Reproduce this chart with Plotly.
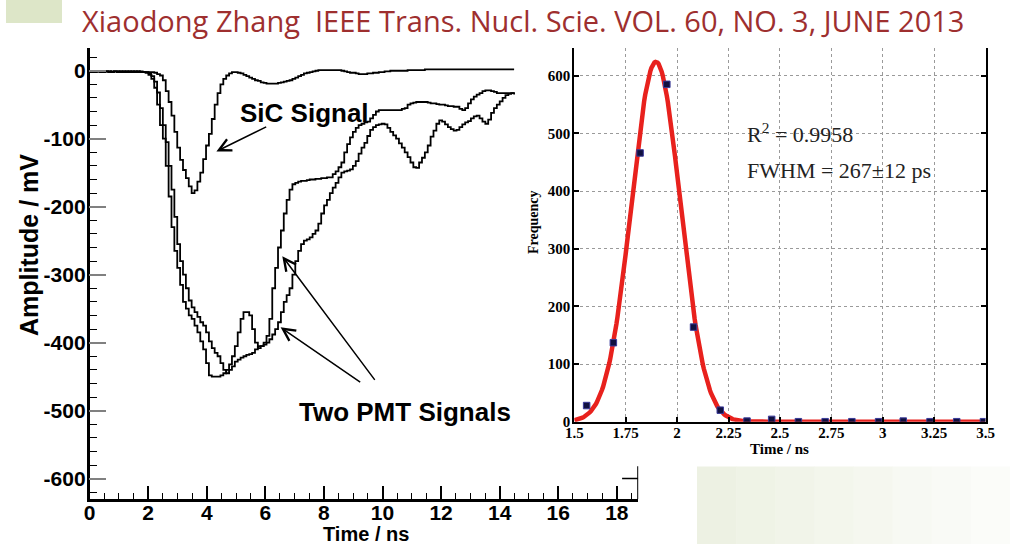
import math
import plotly.graph_objects as go

# ---------------- data ----------------
# left panel: digitised waveforms (sample period ~0.0983 ns, first sample at -0.055 ns)
sample_start_ns = -0.055
sample_period_ns = 0.0983
n_samples = 149
time_ns = [round(sample_start_ns + sample_period_ns * i, 4) for i in range(n_samples)]

sic_mv = [
    -1, -1, -2, -1, -1, -2, -1, -1, -2, -1,
    -1, -1, -2, -1, -1, -2, -1, -1, -2, -2,
    -2, -2, -2, -3, -5, -7, -14, -30, -46, -66,
    -90, -113, -131, -146, -158, -170, -180, -176, -163, -150,
    -130, -110, -93, -71, -50, -33, -20, -12, -7, -4,
    -2, -2, -3, -4, -6, -8, -10, -12, -14, -15,
    -17, -18, -19, -19, -19, -19, -18, -17, -16, -15,
    -14, -12, -10, -8, -6, -4, -3, -2, -1, 0,
    1, 1, 1, 1, 1, 1, 1, 1, 0, -1,
    -2, -3, -3, -4, -5, -5, -5, -4, -4, -3,
    -3, -2, -2, -1, -1, 0, 0, 0, 0, 0,
    0, 1, 1, 1, 1, 1, 1, 2, 2, 2,
    2, 2, 2, 2, 2, 2, 2, 2, 2, 2,
    2, 2, 2, 2, 2, 2, 2, 2, 2, 2,
    2, 2, 2, 2, 2, 2, 2, 2, 2,
]

pmt1_mv = [
    -1, -2, -1, -1, -2, -1, -1, -2, -1, -1,
    -2, -1, -1, -2, -1, -1, -2, -1, -2, -2,
    -3, -6, -12, -25, -50, -80, -100, -140, -185, -230,
    -265, -290, -315, -340, -350, -360, -365, -375, -385, -398,
    -410, -430, -448, -450, -450, -450, -448, -445, -440, -432,
    -420, -405, -385, -365, -355, -355, -360, -380, -400, -408,
    -405, -400, -390, -365, -320, -290, -260, -235, -210, -190,
    -175, -167, -165, -163, -162, -162, -161, -160, -160, -159,
    -159, -158, -158, -157, -157, -152, -148, -142, -135, -120,
    -108, -98, -90, -84, -80, -78, -76, -75, -70, -65,
    -60, -58, -58, -58, -58, -58, -58, -58, -58, -56,
    -55, -50, -48, -47, -46, -46, -46, -46, -47, -48,
    -48, -49, -50, -50, -51, -52, -52, -53, -53, -56,
    -58, -55, -48, -42, -38, -35, -33, -30, -29, -29,
    -30, -31, -33, -33, -33, -33, -33, -33, -33,
]

pmt2_mv = [
    -1, -1, -2, -1, -1, -2, -1, -1, -2, -1,
    -1, -2, -1, -1, -2, -1, -1, -2, -1, -2,
    -2, -4, -8, -16, -32, -55, -80, -105, -140, -175,
    -215, -255, -280, -300, -320, -338, -348, -355, -362, -370,
    -375, -385, -398, -408, -415, -420, -430, -440, -445, -440,
    -435, -428, -425, -422, -420, -418, -417, -415, -410, -405,
    -405, -403, -400, -395, -388, -380, -370, -355, -340, -330,
    -320, -300, -280, -265, -255, -250, -248, -245, -240, -235,
    -225, -210, -198, -190, -180, -172, -165, -157, -150, -148,
    -147, -145, -140, -133, -122, -113, -106, -96, -87, -83,
    -80, -79, -78, -79, -84, -90, -95, -100, -107, -113,
    -120, -127, -135, -142, -143, -135, -128, -120, -110, -97,
    -88, -78, -73, -75, -79, -83, -86, -88, -87, -83,
    -79, -76, -74, -70, -67, -66, -70, -75, -78, -72,
    -62, -55, -50, -45, -40, -36, -34, -33, -35,
]

left_yticks = [0, -100, -200, -300, -400, -500, -600]
left_yticktext = ["0", "-100", "-200", "-300", "-400", "-500", "-600"]

# right panel: timing histogram + Gaussian fit
hist_time_ns = [1.56, 1.69, 1.82, 1.95, 2.08, 2.21, 2.34, 2.46,
                2.59, 2.72, 2.85, 2.98, 3.10, 3.23, 3.36, 3.49]
hist_freq = [28, 137, 466, 585, 164, 20, 1, 4, 0, 0, 0, 0, 1, 0, 0, 0]
fit_amplitude = 624
fit_mean_ns = 1.897
fit_sigma_ns = 0.119

right_xticks = [1.5, 1.75, 2, 2.25, 2.5, 2.75, 3, 3.25, 3.5]
right_xticktext = ["1.5", "1.75", "2", "2.25", "2.5", "2.75", "3", "3.25", "3.5"]

# ---------------- figure ----------------
W, H = 1010, 544


def px_x(p):
    return p / W


def px_y(p):
    return 1 - p / H


fig = go.Figure()

line_style = dict(color="black", width=1.8, shape="hv")
for name, vals in [("SiC", sic_mv), ("PMT 1", pmt1_mv), ("PMT 2", pmt2_mv)]:
    fig.add_trace(go.Scatter(x=time_ns, y=vals, mode="lines", line=line_style,
                             name=name, xaxis="x", yaxis="y", showlegend=False))

# Gaussian fit curve evaluated from the fit parameters
fit_t = [1.5 + i * 0.005 for i in range(401)]
fit_y = [fit_amplitude * math.exp(-((t - fit_mean_ns) ** 2) / (2 * fit_sigma_ns ** 2)) for t in fit_t]
fig.add_trace(go.Scatter(x=fit_t, y=fit_y, mode="lines",
                         line=dict(color="#e8211d", width=4.5),
                         xaxis="x2", yaxis="y2", showlegend=False))
fig.add_trace(go.Scatter(x=hist_time_ns, y=hist_freq, mode="markers",
                         marker=dict(symbol="square", size=6.5, color="#101040",
                                     line=dict(color="#3a3a9a", width=1)),
                         xaxis="x2", yaxis="y2", showlegend=False))

SANS = "Liberation Sans, Arial, sans-serif"
SERIF = "Liberation Serif, Times New Roman, serif"
ytick_font = dict(family=SANS, size=21, color="black", weight="bold")
xtick_font = dict(family=SANS, size=21, color="black", weight="bold")
serif_bold = dict(family=SERIF, size=15, color="black", weight="bold")

fig.update_layout(
    template="none",
    width=W, height=H, autosize=False,
    margin=dict(l=0, r=0, t=0, b=0, pad=0),
    paper_bgcolor="white", plot_bgcolor="rgba(0,0,0,0)",
    xaxis=dict(domain=[px_x(89.6), px_x(638.2)], range=[0, 18.73], anchor="y", automargin=False,
               showline=True, linecolor="black", linewidth=2.5,
               ticks="inside", ticklen=13, tickwidth=1.5, tickcolor="black",
               tick0=0, dtick=2, tickfont=xtick_font, ticklabelstandoff=-7,
               minor=dict(ticks="inside", ticklen=6, dtick=0.5, tickcolor="black", tickwidth=1.2),
               showgrid=False, zeroline=False),
    yaxis=dict(domain=[px_y(499), px_y(48.3)], range=[-630, 33], anchor="x", automargin=False,
               showline=True, linecolor="black", linewidth=2.5,
               ticks="inside", ticklen=17, tickwidth=2, tickcolor="#808080",
               tickvals=left_yticks, ticktext=left_yticktext,
               tickfont=ytick_font, ticklabelstandoff=-3,
               minor=dict(ticks="inside", ticklen=8, dtick=20, tickcolor="black", tickwidth=1.2),
               showgrid=False, zeroline=False),
    xaxis2=dict(domain=[px_x(574.3), px_x(985.5)], range=[1.5, 3.5], anchor="y2", automargin=False,
                showline=True, mirror=False, linecolor="black", linewidth=2,
                ticks="inside", ticklen=5, tickwidth=1.5, tickcolor="black",
                tickvals=right_xticks, ticktext=right_xticktext, tickfont=serif_bold,
                ticklabelstandoff=-4,
                showgrid=True, gridcolor="#9a9a9a", griddash="dot", gridwidth=1,
                zeroline=False),
    yaxis2=dict(domain=[px_y(421.7), px_y(48)], range=[0, 648], anchor="x2", automargin=False,
                showline=True, mirror="allticks", linecolor="black", linewidth=2,
                ticks="inside", ticklen=5, tickwidth=1.5, tickcolor="black",
                tick0=0, dtick=100, tickfont=serif_bold, ticklabelstandoff=-1,
                showgrid=True, gridcolor="#9a9a9a", griddash="dot", gridwidth=1,
                zeroline=False),
)

# decorative slide elements
shapes = [
    dict(type="rect", xref="paper", yref="paper", x0=px_x(6), x1=px_x(62), y0=px_y(23), y1=px_y(0),
         fillcolor="#dde6c8", line=dict(width=0), layer="below"),
]
band_cols = ["#edf1e3", "#eff3e6", "#f1f4e9", "#f3f6ec", "#f5f7ef", "#f7f9f3", "#f9faf6", "#fbfcf9"]
bx0, bx1 = 697, 1010
for i, c in enumerate(band_cols):
    xa = bx0 + (bx1 - bx0) * i / len(band_cols)
    xb = bx0 + (bx1 - bx0) * (i + 1) / len(band_cols)
    shapes.append(dict(type="rect", xref="paper", yref="paper", x0=px_x(xa), x1=px_x(xb + 0.5),
                       y0=px_y(544), y1=px_y(466.5), fillcolor=c, line=dict(width=0), layer="below"))
# visible piece of the left panel's right frame below the inset
shapes.append(dict(type="line", xref="x", yref="y", x0=18.73, x1=18.73, y0=-630, y1=-582,
                   line=dict(color="black", width=2)))
shapes.append(dict(type="line", xref="x", yref="y", x0=18.18, x1=18.73, y0=-600, y1=-600,
                   line=dict(color="black", width=1.5)))
fig.update_layout(shapes=shapes)


def text_ann(text, x, y, font, angle=0, xanchor="center"):
    return dict(text=text, xref="paper", yref="paper", x=px_x(x), y=px_y(y),
                xanchor=xanchor, yanchor="middle", textangle=angle, showarrow=False, font=font)


ann = [
    text_ann("Xiaodong Zhang  IEEE Trans. Nucl. Scie. VOL. 60, NO. 3, JUNE 2013", 80, 21,
             dict(family="Open Sans, sans-serif", size=29, color="#9e2f2f"), xanchor="left"),
    text_ann("Amplitude / mV", 29, 245, dict(family=SANS, size=25, color="black", weight="bold"), angle=-90),
    text_ann("Time / ns", 366, 533.5, dict(family=SANS, size=20, color="black", weight="bold")),
    text_ann("SiC Signal", 304, 112.5, dict(family=SANS, size=26, color="black", weight="bold")),
    text_ann("Two PMT Signals", 405, 412, dict(family=SANS, size=26, color="black", weight="bold")),
    text_ann("Frequency", 533, 222, dict(family=SERIF, size=14, color="black", weight="bold"), angle=-90),
    text_ann("Time / ns", 779, 449, dict(family=SERIF, size=15, color="black", weight="bold")),
    text_ann("R<sup>2</sup> = 0.9958", 745, 133, dict(family=SERIF, size=22, color="#222222"), xanchor="left"),
    text_ann("FWHM = 267±12 ps", 745, 170, dict(family=SERIF, size=22, color="#222222"), xanchor="left"),
]
# arrows: (tail_x, tail_y, head_x, head_y) in page pixels
for (tx, ty, hx, hy) in [(267.7, 126.1, 216.4, 151.4), (361.7, 383.1, 280.6, 327.3),
                         (375.9, 381.4, 282.3, 256.2)]:
    ann.append(dict(text="", xref="paper", yref="paper", x=px_x(hx), y=px_y(hy),
                    ax=tx - hx, ay=ty - hy, showarrow=True, arrowhead=5, arrowsize=1.6,
                    arrowwidth=1.5, arrowcolor="black"))
fig.update_layout(annotations=ann)

fig.write_html("out.html", config={"displayModeBar": False},
               post_script="document.body.style.margin='0';document.body.style.overflow='hidden';")
